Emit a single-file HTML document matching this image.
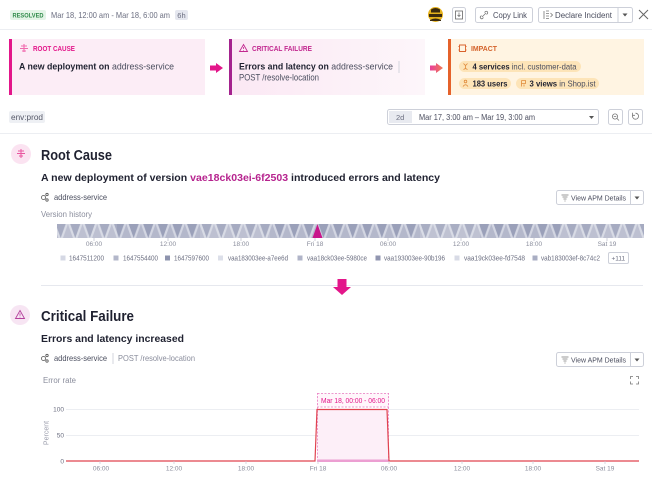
<!DOCTYPE html>
<html><head><meta charset="utf-8"><style>
html,body{margin:0;padding:0;background:#fff;}
svg{display:block;}
text{font-family:"Liberation Sans",Arial,sans-serif;}
</style></head><body>
<svg width="652" height="477" viewBox="0 0 652 477" xmlns="http://www.w3.org/2000/svg">
<defs>
<linearGradient id="cfg" x1="0" x2="1" y1="0" y2="0"><stop offset="0" stop-color="#fbe8f4"/><stop offset="1" stop-color="#fdf6fa"/></linearGradient>
<linearGradient id="arg" x1="0" x2="1" y1="0" y2="0"><stop offset="0" stop-color="#e8409a"/><stop offset="1" stop-color="#f07a55"/></linearGradient>
<pattern id="tri" x="57" y="224" width="14.6" height="14" patternUnits="userSpaceOnUse">
<rect width="14.6" height="14" fill="#d3d6e2"/>
<polygon points="-1.35,0 8.65,0 3.65,14" fill="#9aa0b9"/>
<polygon points="5.95,14 15.95,14 10.95,0" fill="#b4b8cb"/>
<polygon points="-8.65,14 1.35,14 -3.65,0" fill="#b4b8cb"/>
<polygon points="13.25,0 23.25,0 18.25,14" fill="#9aa0b9"/>
</pattern>
</defs>
<rect width="652" height="477" fill="#fff"/>

<!-- header -->
<rect x="10" y="10" width="36" height="10" rx="2" fill="#e4f4e7"/>
<text x="12.5" y="17.5" font-size="6" font-weight="bold" fill="#2f8a49" textLength="31" lengthAdjust="spacingAndGlyphs">RESOLVED</text>
<text x="51" y="18" font-size="8.5" fill="#6b6e80" textLength="119" lengthAdjust="spacingAndGlyphs">Mar 18, 12:00 am - Mar 18, 6:00 am</text>
<rect x="175" y="10" width="13" height="10" rx="2" fill="#e5e7ef"/>
<text x="177.3" y="18" font-size="7.5" fill="#6b6e80">6h</text>

<circle cx="435.5" cy="14.5" r="7.5" fill="#e6b21c"/>
<path d="M429 14 h13 v3 h-13 z" fill="#3b2a0e"/>
<path d="M431 9.5 q4.5 -3 9 0 v3 h-9 z" fill="#3b2a0e"/>
<path d="M430 20 q5.5 -3 11 0 v1 h-11z" fill="#3b2a0e"/>

<rect x="452.5" y="7.5" width="13" height="15" rx="2" fill="#fff" stroke="#cdd0d9"/>
<rect x="455.5" y="11" width="7" height="8" fill="none" stroke="#666" stroke-width="0.8"/>
<path d="M459 12.5 v4 M457.5 15 l1.5 1.5 l1.5 -1.5" stroke="#666" stroke-width="0.7" fill="none"/>

<rect x="475.5" y="7.5" width="57" height="15" rx="2" fill="#fff" stroke="#cdd0d9"/>
<path d="M482 17 l4 -4 M481.5 15.5 l-0.8 0.8 a1.4 1.4 0 0 0 2 2 l0.8 -0.8 M486.5 14.5 l0.8 -0.8 a1.4 1.4 0 0 0 -2 -2 l-0.8 0.8" stroke="#777" stroke-width="0.8" fill="none"/>
<text x="493" y="18" font-size="8" fill="#4a4d5e" textLength="34" lengthAdjust="spacingAndGlyphs">Copy Link</text>

<rect x="538.5" y="7.5" width="94" height="15" rx="2" fill="#fff" stroke="#cdd0d9"/>
<line x1="618" y1="8" x2="618" y2="22" stroke="#cdd0d9"/>
<path d="M544 11 v8 M546 11 h3 M546 13.5 h3 M546 16 h3 M546 18.5 h3 M550.5 13 l2 2 l-2 2" stroke="#777" stroke-width="0.8" fill="none"/>
<text x="555" y="18" font-size="8" fill="#4a4d5e" textLength="57" lengthAdjust="spacingAndGlyphs">Declare Incident</text>
<polygon points="622.5,13.5 627.5,13.5 625,16.5" fill="#555"/>
<path d="M639 10 L648 19 M648 10 L639 19" stroke="#666" stroke-width="1"/>

<line x1="0" y1="29.5" x2="652" y2="29.5" stroke="#eceef2"/>

<!-- cards -->
<rect x="9" y="39" width="196" height="56" fill="#fcedf6"/>
<rect x="9" y="39" width="3" height="56" fill="#e3168a"/>
<path d="M21 46 h6 M20 48.5 h8 M22 51 h4 M24 44 v8" stroke="#f06aae" stroke-width="1.1" fill="none"/>
<text x="33" y="50.8" font-size="7" font-weight="bold" fill="#e3168a" textLength="42" lengthAdjust="spacingAndGlyphs">ROOT CAUSE</text>
<text x="19" y="69.5" font-size="9.5" fill="#1f2130" textLength="155" lengthAdjust="spacingAndGlyphs"><tspan font-weight="bold">A new deployment on</tspan><tspan fill="#4a4d5e"> address-service</tspan></text>

<path d="M210 65.5 h6 v-2.5 l7 5 l-7 5 v-2.5 h-6 z" fill="#e3168a"/>

<rect x="229" y="39" width="196" height="56" fill="url(#cfg)"/>
<rect x="229" y="39" width="3" height="56" fill="#a4238e"/>
<path d="M243.5 44.5 l4 7 h-8 z" fill="none" stroke="#c2278f" stroke-width="0.9"/>
<path d="M243.5 47 v2 M243.5 50 v0.6" stroke="#c2278f" stroke-width="0.8"/>
<text x="252" y="50.8" font-size="7" font-weight="bold" fill="#c2278f" textLength="60" lengthAdjust="spacingAndGlyphs">CRITICAL FAILURE</text>
<text x="239" y="69.5" font-size="9.5" fill="#1f2130" textLength="154" lengthAdjust="spacingAndGlyphs"><tspan font-weight="bold">Errors and latency on</tspan><tspan fill="#4a4d5e"> address-service</tspan></text>
<line x1="399" y1="61" x2="399" y2="73" stroke="#d3d5dd"/>
<text x="239" y="80.5" font-size="9.5" fill="#4a4d5e" textLength="80" lengthAdjust="spacingAndGlyphs">POST /resolve-location</text>

<path d="M430 65.5 h6 v-2.5 l7 5 l-7 5 v-2.5 h-6 z" fill="url(#arg)"/>

<rect x="448" y="39" width="196" height="56" fill="#fff4e2"/>
<rect x="448" y="39" width="3" height="56" fill="#e5622b"/>
<path d="M459.5 45 h6 v6.5 h-6 z M458.5 46.5 h1 M458.5 50 h1 M465.5 46.5 h1 M465.5 50 h1" stroke="#d9602a" stroke-width="0.9" fill="none"/>
<text x="471" y="50.8" font-size="7" font-weight="bold" fill="#d4622a" textLength="26" lengthAdjust="spacingAndGlyphs">IMPACT</text>

<rect x="459" y="61" width="122" height="11" rx="5.5" fill="#fde4b8"/>
<path d="M463.5 63.5 l2 2 l2 -2 M465.5 65.5 v3 M463.5 69.5 l2 -1 l2 1" stroke="#e08a3a" stroke-width="0.8" fill="none"/>
<text x="472.5" y="69.6" font-size="8.5" fill="#1f2130" textLength="104" lengthAdjust="spacingAndGlyphs"><tspan font-weight="bold">4 services</tspan><tspan fill="#4a4d5e"> incl. customer-data</tspan></text>

<rect x="459" y="78" width="52" height="11" rx="5.5" fill="#fde4b8"/>
<circle cx="465.5" cy="81.5" r="1.3" fill="none" stroke="#e08a3a" stroke-width="0.8"/>
<path d="M463 86.5 q2.5 -3.5 5 0" stroke="#e08a3a" stroke-width="0.8" fill="none"/>
<text x="472.5" y="86.6" font-size="8.5" font-weight="bold" fill="#1f2130" textLength="35" lengthAdjust="spacingAndGlyphs">183 users</text>

<rect x="516" y="78" width="83" height="11" rx="5.5" fill="#fde4b8"/>
<path d="M521.5 80.5 v6 M521.5 80.5 h4 v3 h-4 M524 86.5 v-2" stroke="#e08a3a" stroke-width="0.8" fill="none"/>
<text x="529.5" y="86.6" font-size="8.5" fill="#1f2130" textLength="66" lengthAdjust="spacingAndGlyphs"><tspan font-weight="bold">3 views</tspan><tspan fill="#4a4d5e"> in Shop.ist</tspan></text>

<!-- filter row -->
<rect x="9" y="111" width="36" height="12" rx="2" fill="#eef0f4"/>
<text x="11" y="119.8" font-size="8" fill="#555868" textLength="32" lengthAdjust="spacingAndGlyphs">env:prod</text>

<rect x="387.5" y="109.5" width="211" height="15" rx="2" fill="#fff" stroke="#cdd0d9"/>
<rect x="389" y="111" width="23" height="12" fill="#e8eaf0"/>
<text x="396" y="120" font-size="7.5" fill="#6b6e80">2d</text>
<text x="419" y="120" font-size="8" fill="#4a4d5e" textLength="116" lengthAdjust="spacingAndGlyphs">Mar 17, 3:00 am – Mar 19, 3:00 am</text>
<polygon points="589,116 594,116 591.5,119" fill="#555"/>

<rect x="608.5" y="109.5" width="14" height="15" rx="2" fill="#fff" stroke="#cdd0d9"/>
<circle cx="615" cy="116.5" r="2.6" fill="none" stroke="#777" stroke-width="0.8"/>
<path d="M617 118.5 l2 2 M613.8 116.5 h2.4" stroke="#777" stroke-width="0.8"/>
<rect x="628.5" y="109.5" width="14" height="15" rx="2" fill="#fff" stroke="#cdd0d9"/>
<path d="M632.8 115 a3 3 0 1 0 2.7 -1.8" stroke="#777" stroke-width="0.8" fill="none"/>
<path d="M632.5 112.8 v2.5 h2.5" stroke="#777" stroke-width="0.8" fill="none"/>

<line x1="0" y1="133.5" x2="652" y2="133.5" stroke="#eceef2"/>

<!-- Root Cause section -->
<circle cx="21" cy="154" r="10" fill="#fbe3f1"/>
<path d="M18 151 h6 M17 153.5 h8 M19 156 h4 M21 149 v9" stroke="#e9559f" stroke-width="1" fill="none"/>
<text x="41" y="160" font-size="14.5" font-weight="bold" fill="#1f2130" textLength="71" lengthAdjust="spacingAndGlyphs">Root Cause</text>
<text x="41" y="181" font-size="10.5" font-weight="bold" fill="#1f2130" textLength="399" lengthAdjust="spacingAndGlyphs">A new deployment of version <tspan fill="#b6238e">vae18ck03ei-6f2503</tspan> introduced errors and latency</text>

<g stroke="#555" stroke-width="0.8" fill="none">
<circle cx="43.5" cy="197.5" r="2"/><circle cx="47" cy="194.5" r="1.2"/><circle cx="47" cy="200" r="1.2"/>
</g>
<text x="54" y="200" font-size="8.5" fill="#4a4d5e" textLength="53" lengthAdjust="spacingAndGlyphs">address-service</text>

<rect x="556.5" y="190.5" width="87" height="14" rx="2" fill="#fff" stroke="#cdd0d9"/>
<line x1="630.5" y1="191" x2="630.5" y2="204" stroke="#cdd0d9"/>
<path d="M561.5 195 h7 M562.5 197 h5 M563.5 199 h3 M564.5 201 h1" stroke="#777" stroke-width="0.8"/>
<text x="571" y="200.3" font-size="7.5" fill="#4a4d5e" textLength="55" lengthAdjust="spacingAndGlyphs">View APM Details</text>
<polygon points="634.5,196.5 639.5,196.5 637,199.5" fill="#555"/>

<text x="41" y="217" font-size="8" fill="#8a8d9c" textLength="51" lengthAdjust="spacingAndGlyphs">Version history</text>

<rect x="57" y="224" width="587" height="14" fill="url(#tri)"/>
<rect x="57" y="224" width="60" height="14" fill="#fff" opacity="0.12"/>
<rect x="200" y="224" width="70" height="14" fill="#fff" opacity="0.12"/>
<rect x="420" y="224" width="60" height="14" fill="#fff" opacity="0.15"/>
<rect x="560" y="224" width="84" height="14" fill="#fff" opacity="0.12"/>
<polygon points="312.5,238 322.5,238 317.5,224" fill="#c8168b"/>

<g stroke="#b8bbc8" stroke-width="0.7">
<line x1="94" y1="238" x2="94" y2="241"/><line x1="168" y1="238" x2="168" y2="241"/><line x1="241" y1="238" x2="241" y2="241"/><line x1="315" y1="238" x2="315" y2="241"/>
<line x1="388" y1="238" x2="388" y2="241"/><line x1="461" y1="238" x2="461" y2="241"/><line x1="534" y1="238" x2="534" y2="241"/><line x1="607" y1="238" x2="607" y2="241"/>
</g>
<g font-size="6.5" fill="#8a8d9c" text-anchor="middle">
<text x="94" y="246">06:00</text><text x="168" y="246">12:00</text><text x="241" y="246">18:00</text><text x="315" y="246">Fri 18</text>
<text x="388" y="246">06:00</text><text x="461" y="246">12:00</text><text x="534" y="246">18:00</text><text x="607" y="246">Sat 19</text>
</g>

<g font-size="7" fill="#6b6e80">
<rect x="60.5" y="255.5" width="5" height="5" fill="#d5d8e4"/><text x="69" y="260.5" textLength="35" lengthAdjust="spacingAndGlyphs">1647511200</text>
<rect x="113.5" y="255.5" width="5" height="5" fill="#b3b7ca"/><text x="123" y="260.5" textLength="35" lengthAdjust="spacingAndGlyphs">1647554400</text>
<rect x="165" y="255.5" width="5" height="5" fill="#8e94ae"/><text x="174" y="260.5" textLength="35" lengthAdjust="spacingAndGlyphs">1647597600</text>
<rect x="218" y="255.5" width="5" height="5" fill="#dcdfe9"/><text x="228" y="260.5" textLength="60" lengthAdjust="spacingAndGlyphs">vaa183003ee-a7ee6d</text>
<rect x="297.5" y="255.5" width="5" height="5" fill="#b0b4c8"/><text x="307" y="260.5" textLength="60" lengthAdjust="spacingAndGlyphs">vaa18ck03ee-5980ce</text>
<rect x="375.5" y="255.5" width="5" height="5" fill="#9196b0"/><text x="384" y="260.5" textLength="61" lengthAdjust="spacingAndGlyphs">vaa193003ee-90b196</text>
<rect x="454.5" y="255.5" width="5" height="5" fill="#d8dbe6"/><text x="464" y="260.5" textLength="61" lengthAdjust="spacingAndGlyphs">vaa19ck03ee-fd7548</text>
<rect x="532.5" y="255.5" width="5" height="5" fill="#a9aec3"/><text x="541" y="260.5" textLength="59" lengthAdjust="spacingAndGlyphs">vab183003ef-8c74c2</text>
</g>
<rect x="608.5" y="252.5" width="20" height="11" rx="1.5" fill="#fff" stroke="#cdd0d9"/>
<text x="611.5" y="260.5" font-size="6.5" fill="#6b6e80">+111</text>

<line x1="41" y1="285.5" x2="643" y2="285.5" stroke="#e6e8ee"/>
<path d="M337.5 279 h9 v8 h4.5 l-9 8 l-9 -8 h4.5 z" fill="#e3168a"/>

<!-- Critical Failure section -->
<circle cx="20" cy="315" r="10" fill="#f7e5f3"/>
<path d="M20 310.5 l4.5 8 h-9 z" fill="none" stroke="#b4409c" stroke-width="0.9"/>
<path d="M20 313.3 v2.4 M20 316.8 v0.7" stroke="#b4409c" stroke-width="0.8"/>
<text x="41" y="321" font-size="14.5" font-weight="bold" fill="#1f2130" textLength="93" lengthAdjust="spacingAndGlyphs">Critical Failure</text>
<text x="41" y="342" font-size="10.5" font-weight="bold" fill="#1f2130" textLength="143" lengthAdjust="spacingAndGlyphs">Errors and latency increased</text>

<g stroke="#555" stroke-width="0.8" fill="none">
<circle cx="43.5" cy="358.5" r="2"/><circle cx="47" cy="355.5" r="1.2"/><circle cx="47" cy="361" r="1.2"/>
</g>
<text x="54" y="361" font-size="8.5" fill="#4a4d5e" textLength="53" lengthAdjust="spacingAndGlyphs">address-service</text>
<line x1="113" y1="353" x2="113" y2="364" stroke="#d3d5dd"/>
<text x="118" y="361" font-size="8.5" fill="#8a8d9c" textLength="77" lengthAdjust="spacingAndGlyphs">POST /resolve-location</text>

<rect x="556.5" y="352.5" width="87" height="14" rx="2" fill="#fff" stroke="#cdd0d9"/>
<line x1="630.5" y1="353" x2="630.5" y2="366" stroke="#cdd0d9"/>
<path d="M561.5 357 h7 M562.5 359 h5 M563.5 361 h3 M564.5 363 h1" stroke="#777" stroke-width="0.8"/>
<text x="571" y="362.3" font-size="7.5" fill="#4a4d5e" textLength="55" lengthAdjust="spacingAndGlyphs">View APM Details</text>
<polygon points="634.5,358.5 639.5,358.5 637,361.5" fill="#555"/>

<text x="43" y="383" font-size="8" fill="#8a8d9c" textLength="33" lengthAdjust="spacingAndGlyphs">Error rate</text>
<path d="M630.5 379 v-2.5 h2.5 M636 376.5 h2.5 v2.5 M638.5 381.5 v2.5 h-2.5 M633 384 h-2.5 v-2.5" stroke="#777" stroke-width="0.8" fill="none"/>

<!-- chart -->
<line x1="66" y1="409.5" x2="639" y2="409.5" stroke="#eceef2"/>
<line x1="66" y1="435.5" x2="639" y2="435.5" stroke="#eceef2"/>
<g font-size="6.5" fill="#6b6e80" text-anchor="end">
<text x="64" y="411.5">100</text><text x="64" y="437.5">50</text><text x="64" y="463.5">0</text>
</g>
<text transform="translate(48.5,433) rotate(-90)" font-size="7" fill="#9a9cab" text-anchor="middle">Percent</text>

<rect x="317" y="409" width="72" height="52" fill="#fdeff8"/>
<line x1="317.5" y1="393" x2="317.5" y2="461" stroke="#e878c0" stroke-width="0.7" stroke-dasharray="2,1.5"/>
<line x1="388.5" y1="393" x2="388.5" y2="461" stroke="#e878c0" stroke-width="0.7" stroke-dasharray="2,1.5"/>
<rect x="317.5" y="393.5" width="71" height="13.5" fill="#fff6fb" stroke="#e878c0" stroke-width="0.7" stroke-dasharray="2,1.5"/>
<text x="353" y="403" font-size="7.5" fill="#e3168a" text-anchor="middle" textLength="64" lengthAdjust="spacingAndGlyphs">Mar 18, 00:00 - 06:00</text>

<rect x="317" y="459.5" width="72" height="2.5" fill="#ec9fd2"/>
<polyline points="66,461 315,461 317,409.5 387,409.5 389,461 639,461" fill="none" stroke="#e0434f" stroke-width="1.2"/>

<g stroke="#c8cad4" stroke-width="0.7">
<line x1="100" y1="461" x2="100" y2="464"/><line x1="174" y1="461" x2="174" y2="464"/><line x1="246" y1="461" x2="246" y2="464"/><line x1="318" y1="461" x2="318" y2="464"/>
<line x1="389" y1="461" x2="389" y2="464"/><line x1="462" y1="461" x2="462" y2="464"/><line x1="533" y1="461" x2="533" y2="464"/><line x1="605" y1="461" x2="605" y2="464"/>
</g>
<g font-size="6.5" fill="#8a8d9c" text-anchor="middle">
<text x="101" y="470.5">06:00</text><text x="174" y="470.5">12:00</text><text x="246" y="470.5">18:00</text><text x="318" y="470.5">Fri 18</text>
<text x="389" y="470.5">06:00</text><text x="462" y="470.5">12:00</text><text x="533" y="470.5">18:00</text><text x="605" y="470.5">Sat 19</text>
</g>
</svg>
</body></html>
